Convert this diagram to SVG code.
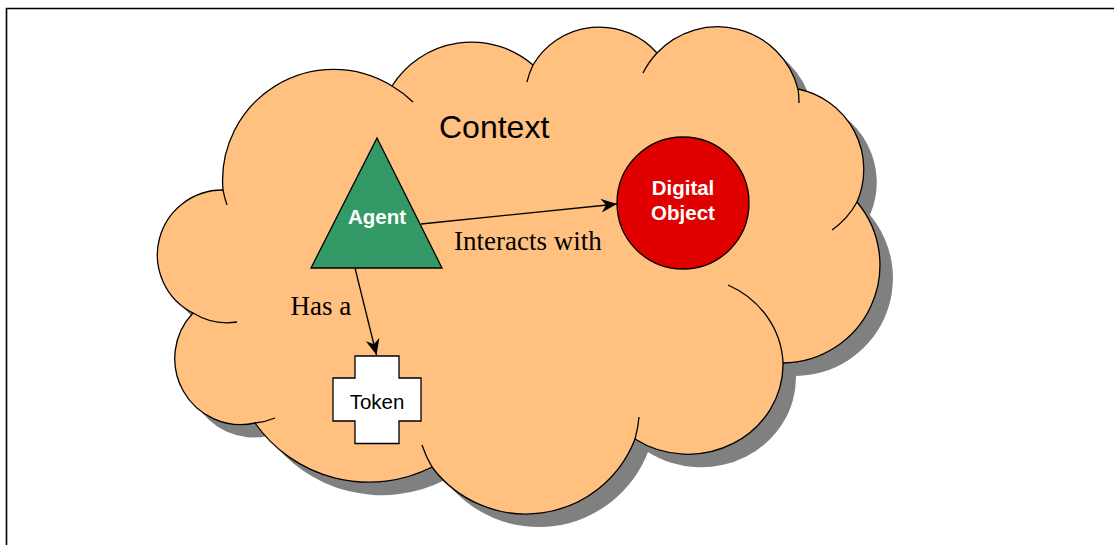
<svg xmlns="http://www.w3.org/2000/svg" width="1114" height="545" viewBox="0 0 1114 545">
<style>
.frame{fill:none;stroke:#000;stroke-width:1.6}
.cloud{fill:#FFC080;stroke:none}
.shadow{fill:#808080;stroke:none}
.outline{fill:none;stroke:#000;stroke-width:1.3}
.edge{fill:none;stroke:#000;stroke-width:1.3}
.sans{font-family:"Liberation Sans",Arial,sans-serif}
.serif{font-family:"Liberation Serif","Times New Roman",serif;font-size:27px;fill:#000}
.white{fill:#fff;font-weight:bold;font-size:20.5px}
</style>
<defs>
<path id="cloudShape" d="M223,190 A111,111 0 0 1 392,86 A94,94 0 0 1 533,65 A77,77 0 0 1 657,53 A83,83 0 0 1 798,89 A82,82 0 0 1 857,202 A98,98 0 0 1 783,363 A95,90 0 0 1 635,439 A117,117 0 0 1 432,467 A139,139 0 0 1 255,423 A66,66 0 0 1 193,313 A65,65 0 0 1 223,190 Z"/>
<marker id="arrow" markerUnits="userSpaceOnUse" viewBox="-17 -8 18 16" markerWidth="18" markerHeight="16" refX="0" refY="0" orient="auto">
<path d="M0,0 L-16,-7 L-11,0 L-16,7 Z" fill="#000"/>
</marker>
</defs>
<rect x="0" y="0" width="1114" height="545" fill="#fff"/>
<path class="frame" d="M6.5,545 V8.5 H1114"/>
<g id="context">
<use href="#cloudShape" class="shadow" transform="translate(13,13)"/>
<use href="#cloudShape" class="cloud"/>
<use href="#cloudShape" class="outline"/>
<path class="outline" d="M227,205 A111,111 0 0 1 223,190 M392,86 A111,111 0 0 1 413,102 M527,82 A77,77 0 0 1 533,65 M643,73 A83,83 0 0 1 657,53 M798,89 A83,83 0 0 1 799,103 M857,202 A82,82 0 0 1 832,230 M728,285 A95,90 0 0 1 783,363 M639,417 A117,117 0 0 1 635,439 M432,467 A117,117 0 0 1 422,445 M275,418 A66,66 0 0 1 255,423 M237,322 A65,65 0 0 1 193,313"/>
<text class="sans" x="439" y="138" font-size="32" fill="#000">Context</text>
</g>
<g id="connectors">
<line class="edge" x1="421" y1="224" x2="617" y2="204" marker-end="url(#arrow)"/>
<line class="edge" x1="355" y1="268" x2="376.5" y2="355" marker-end="url(#arrow)"/>
<text class="serif" x="454" y="250">Interacts with</text>
<text class="serif" x="290.5" y="315">Has a</text>
</g>
<g id="agent">
<polygon points="377,138 442,268 311,268" fill="#339966" stroke="#000" stroke-width="1.3"/>
<text class="sans white" x="377" y="224" text-anchor="middle">Agent</text>
</g>
<g id="digital-object">
<circle cx="683" cy="203" r="66" fill="#E00000" stroke="#000" stroke-width="1.3"/>
<text class="sans white" x="683" y="195" text-anchor="middle">Digital</text>
<text class="sans white" x="683" y="219.5" text-anchor="middle">Object</text>
</g>
<g id="token">
<polygon points="355,356 399,356 399,378 421,378 421,421 399,421 399,443.5 355,443.5 355,421 333,421 333,378 355,378" fill="#fff" stroke="#000" stroke-width="1.3"/>
<text class="sans" x="377" y="409" font-size="20.5" fill="#000" text-anchor="middle">Token</text>
</g>
</svg>
